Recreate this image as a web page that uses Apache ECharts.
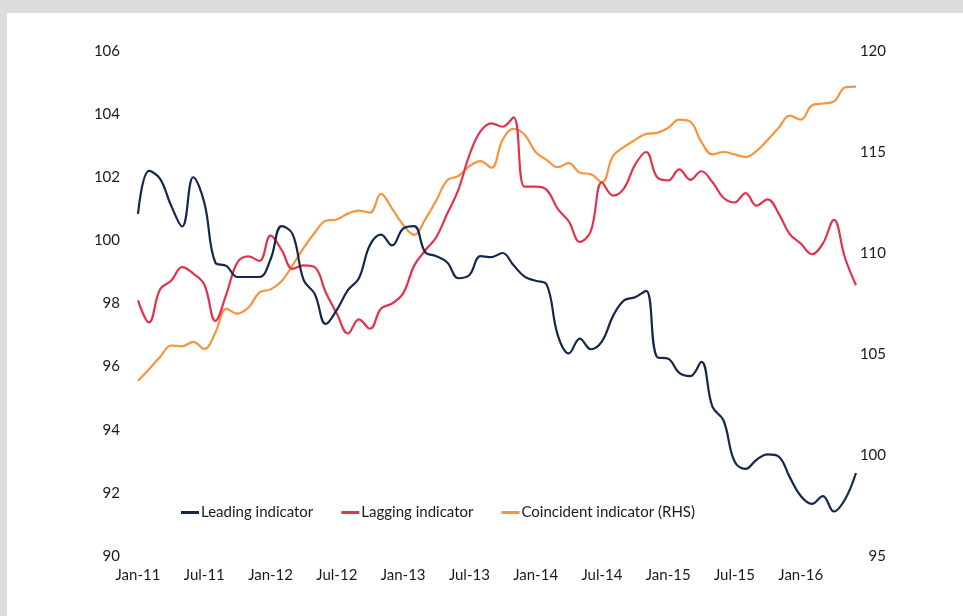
<!DOCTYPE html>
<html>
<head>
<meta charset="utf-8">
<script src="https://cdn.jsdelivr.net/npm/echarts@6/dist/echarts.min.js"></script>
<style>
  html, body { margin: 0; padding: 0; width: 963px; height: 616px; background: #dcdddf; overflow: hidden; }
  #panel { position: absolute; left: 7px; top: 13px; right: 0; bottom: 0; background: #ffffff; }
  #chart { position: absolute; left: 0; top: 0; width: 963px; height: 616px; }
</style>
</head>
<body>
<div id="panel"></div>
<div id="chart"></div>
<script>
// Months Jan-11 .. Jun-16
const monthNames = ['Jan','Feb','Mar','Apr','May','Jun','Jul','Aug','Sep','Oct','Nov','Dec'];
const categories = [];
for (let y = 11; y <= 16; y++) {
  for (let m = 0; m < 12; m++) {
    if (y === 16 && m > 5) break;
    categories.push(monthNames[m] + '-' + y);
  }
}

const leading = [
  100.84, 102.2, 101.95, 101.1, 100.44, 102.0, 101.2, 99.3, 99.19, 98.84,
  98.84, 98.84, 99.4, 100.45, 100.2, 98.74, 98.3, 97.35, 97.8, 98.42,
  98.8, 99.85, 100.18, 99.84, 100.37, 100.45, 99.63, 99.5, 99.3, 98.8,
  98.9, 99.5, 99.47, 99.6, 99.21, 98.85, 98.72, 98.6, 97.0, 96.42,
  96.89, 96.55, 96.8, 97.6, 98.1, 98.2, 98.4, 96.3, 96.25, 95.8,
  95.7, 96.15, 94.73, 94.3, 93.0, 92.76, 93.05, 93.22, 93.15, 92.5,
  91.9, 91.65, 91.9, 91.41, 91.79, 92.63
];

const lagging = [
  98.1, 97.4, 98.45, 98.72, 99.15, 98.95, 98.6, 97.45, 98.3, 99.3,
  99.49, 99.35, 100.15, 99.7, 99.1, 99.21, 99.15, 98.35, 97.68, 97.05,
  97.5, 97.2, 97.84, 98.0, 98.32, 99.2, 99.68, 100.1, 100.85, 101.6,
  102.7, 103.45, 103.71, 103.6, 103.9, 101.7, 101.7, 101.6, 101.0, 100.6,
  99.95, 100.3, 101.84, 101.42, 101.65, 102.4, 102.8, 102.0, 101.9, 102.25,
  101.92, 102.19, 101.85, 101.35, 101.2, 101.5, 101.1, 101.3, 100.85, 100.2,
  99.9, 99.56, 99.9, 100.65, 99.45, 98.58
];

const coincident = [
  103.68, 104.25, 104.85, 105.42, 105.38, 105.6, 105.25, 106.05, 107.23, 107.0,
  107.3, 108.05, 108.2, 108.6, 109.4, 110.25, 111.0, 111.6, 111.66, 111.95,
  112.1, 112.0, 112.93, 112.2, 111.4, 110.9, 111.66, 112.6, 113.6, 113.81,
  114.3, 114.55, 114.22, 115.6, 116.15, 115.85, 115.0, 114.6, 114.25, 114.45,
  113.97, 113.9, 113.5, 114.8, 115.25, 115.6, 115.9, 115.95, 116.2, 116.6,
  116.5, 115.5, 114.88, 115.0, 114.88, 114.75, 115.05, 115.6, 116.2, 116.8,
  116.6, 117.3, 117.4, 117.5, 118.19, 118.24
];

const seriesNames = ['Leading indicator', 'Lagging indicator', 'Coincident indicator (RHS)'];
const colors = ['#14284b', '#e0344e', '#f7943d'];

const FONT = 'Lato';
const chart = echarts.init(document.getElementById('chart'), null, { renderer: 'canvas' });

const option = {
  backgroundColor: 'transparent',
  animation: false,
  textStyle: { fontFamily: FONT },
  color: colors,
  grid: { left: 138, right: 107, top: 51, bottom: 60, containLabel: false },
  legend: {
    left: 181, top: 505, padding: 0,
    icon: 'rect',
    itemWidth: 18, itemHeight: 3, itemGap: 28,
    textStyle: { fontFamily: FONT, fontSize: 15, color: '#1a1a1a', padding: [0, 0, 0, -3] },
    data: seriesNames
  },
  xAxis: {
    type: 'category',
    data: categories,
    boundaryGap: false,
    axisLine: { show: false },
    axisTick: { show: false },
    splitLine: { show: false },
    axisLabel: { interval: 5, margin: 12, fontFamily: FONT, fontSize: 15, color: '#1a1a1a' }
  },
  yAxis: [
    {
      type: 'value', min: 90, max: 106, interval: 2,
      axisLine: { show: false }, axisTick: { show: false }, splitLine: { show: false },
      axisLabel: { margin: 18, fontFamily: FONT, fontSize: 15, color: '#1a1a1a' }
    },
    {
      type: 'value', min: 95, max: 120, interval: 5, position: 'right',
      axisLine: { show: false }, axisTick: { show: false }, splitLine: { show: false },
      axisLabel: { margin: 30, align: 'right', fontFamily: FONT, fontSize: 15, color: '#1a1a1a' }
    }
  ],
  series: [
    { name: seriesNames[0], type: 'line', data: leading, yAxisIndex: 0, smooth: 0.4, symbol: 'none',
      lineStyle: { width: 2.2, color: colors[0] }, itemStyle: { color: colors[0] }, z: 3 },
    { name: seriesNames[1], type: 'line', data: lagging, yAxisIndex: 0, smooth: 0.4, symbol: 'none',
      lineStyle: { width: 2.2, color: colors[1] }, itemStyle: { color: colors[1] }, z: 2 },
    { name: seriesNames[2], type: 'line', data: coincident, yAxisIndex: 1, smooth: 0.4, symbol: 'none',
      lineStyle: { width: 2.2, color: colors[2] }, itemStyle: { color: colors[2] }, z: 1 }
  ]
};
chart.setOption(option);
</script>
</body>
</html>
